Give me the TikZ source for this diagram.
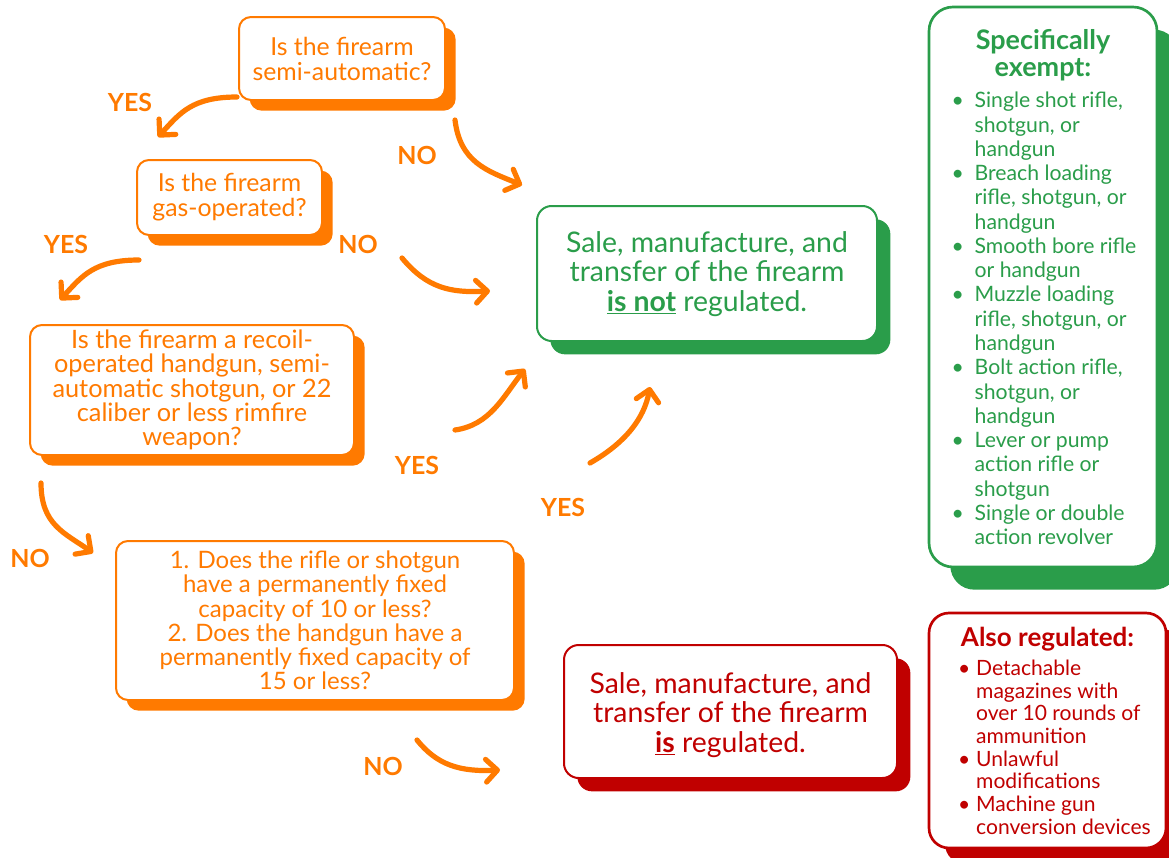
\documentclass[tikz,border=0pt]{standalone}
\usepackage{fontspec}
\setmainfont{Lato}
\usetikzlibrary{arrows.meta,shadows}
\definecolor{orangeC}{HTML}{FF7A00}
\definecolor{greenC}{HTML}{2A9D4A}
\definecolor{redC}{HTML}{C00000}
\newcommand{\blt}[2]{\hspace*{3pt}\makebox[#1][l]{•}#2}
\newcommand{\ind}[2]{\hspace*{3pt}\hspace*{#1}#2}
\newcommand{\lowered}[2]{\raisebox{#1}[\height][\depth]{\renewcommand{\arraystretch}{0.97}\begin{tabular}{@{}c@{}}#2\end{tabular}}}
\begin{document}
\begin{tikzpicture}[x=0.75pt,y=-0.75pt,
  qbox/.style={draw=orangeC, line width=1.5pt, fill=white, rounded corners=9pt, align=center,
    text=orangeC, font=\fontsize{17.6}{18.3}\selectfont, inner sep=0pt,
    general shadow={fill=orangeC, shadow xshift=8pt, shadow yshift=-8pt}},
  gbox/.style={draw=greenC, line width=1.5pt, fill=white, rounded corners=11pt, align=center,
    text=greenC, font=\fontsize{21.3}{21}\selectfont, inner sep=0pt,
    general shadow={fill=greenC, shadow xshift=10pt, shadow yshift=-10pt}},
  rbox/.style={draw=redC, line width=1.5pt, fill=white, rounded corners=11pt, align=center,
    text=redC, font=\fontsize{21.3}{21}\selectfont, inner sep=0pt,
    general shadow={fill=redC, shadow xshift=10pt, shadow yshift=-10pt}},
  flow/.style={draw=orangeC, line width=3.9pt, line cap=round,
    -{Straight Barb[round, length=8.5pt, width=17pt]}},
  lbl/.style={text=orangeC, font=\fontsize{18.7}{20}\selectfont\bfseries, inner sep=0pt}
]
\useasboundingbox (0,0) rectangle (1169,857);

% question boxes
\node[qbox, font=\fontsize{18.6}{18.75}\selectfont, minimum width=154.5pt, minimum height=62.25pt] (q1) at (342,58.5)
  {Is the firearm\\semi-automatic?};
\node[qbox, font=\fontsize{18.6}{18.75}\selectfont, minimum width=138.75pt, minimum height=56.25pt] (q2) at (229.5,197.5)
  {Is the firearm\\gas-operated?};
\node[qbox, font=\fontsize{19}{18.2}\selectfont, minimum width=243pt, minimum height=97.5pt] (q3) at (192,390)
  {Is the firearm a recoil-\\operated handgun, semi-\\automatic shotgun, or 22\\caliber or less rimfire\\weapon?};
\node[qbox, font=\fontsize{18}{18.2}\selectfont, minimum width=298.5pt, minimum height=119.25pt] (q4) at (315,620.5)
  {1. Does the rifle or shotgun\\have a permanently fixed\\capacity of 10 or less?\\2. Does the handgun have a\\permanently fixed capacity of\\15 or less?};

% outcomes
\node[gbox, minimum width=255pt, minimum height=101.25pt] (notreg) at (707,273.5)
  {\lowered{-1.5pt}{Sale, manufacture, and\\transfer of the firearm\\\underline{\textbf{is not}} regulated.}};
\node[rbox, minimum width=249.75pt, minimum height=99.75pt] (isreg) at (730.5,711.5)
  {\lowered{-3.75pt}{Sale, manufacture, and\\transfer of the firearm\\\underline{\textbf{is}} regulated.}};

% side lists
\node[draw=greenC, line width=2pt, fill=white, rounded corners=18pt, text=greenC, inner sep=0pt,
  minimum width=171pt, minimum height=420pt,
  general shadow={fill=greenC, shadow xshift=16pt, shadow yshift=-17pt}] (exempt) at (1043,287)
  {\begin{minipage}{143pt}\centering
   {\fontsize{20.2}{20.25}\selectfont\bfseries Specifically\\exempt:\par}
   \vspace{5.5pt}
   \raggedright\fontsize{15.9}{18.2}\selectfont
   \blt{17.25pt}{Single shot rifle,}\\
   \ind{17.25pt}{shotgun, or}\\
   \ind{17.25pt}{handgun}\\
   \blt{17.25pt}{Breach loading}\\
   \ind{17.25pt}{rifle, shotgun, or}\\
   \ind{17.25pt}{handgun}\\
   \blt{17.25pt}{Smooth bore rifle}\\
   \ind{17.25pt}{or handgun}\\
   \blt{17.25pt}{Muzzle loading}\\
   \ind{17.25pt}{rifle, shotgun, or}\\
   \ind{17.25pt}{handgun}\\
   \blt{17.25pt}{Bolt action rifle,}\\
   \ind{17.25pt}{shotgun, or}\\
   \ind{17.25pt}{handgun}\\
   \blt{17.25pt}{Lever or pump}\\
   \ind{17.25pt}{action rifle or}\\
   \ind{17.25pt}{shotgun}\\
   \blt{17.25pt}{Single or double}\\
   \ind{17.25pt}{action revolver}\par
   \end{minipage}};

\node[draw=redC, line width=2pt, fill=white, rounded corners=15pt, text=redC, inner sep=0pt,
  minimum width=177.75pt, minimum height=176.25pt,
  general shadow={fill=redC, shadow xshift=12pt, shadow yshift=-12pt}] (alsoreg) at (1047.5,730.5)
  {\begin{minipage}{166pt}\centering
   {\fontsize{19.5}{19}\selectfont\bfseries Also regulated:\par}
   \vspace{5pt}
   \raggedright\fontsize{15.8}{17}\selectfont
   \hspace*{13pt}\blt{13.5pt}{Detachable}\\
   \hspace*{13pt}\ind{13.5pt}{magazines with}\\
   \hspace*{13pt}\ind{13.5pt}{over 10 rounds of}\\
   \hspace*{13pt}\ind{13.5pt}{ammunition}\\
   \hspace*{13pt}\blt{13.5pt}{Unlawful}\\
   \hspace*{13pt}\ind{13.5pt}{modifications}\\
   \hspace*{13pt}\blt{13.5pt}{Machine gun}\\
   \hspace*{13pt}\ind{13.5pt}{conversion devices}\par
   \end{minipage}};

% arrow end points
\coordinate (a1s) at (237,97);   \coordinate (a1e) at (158,137);
\coordinate (a2s) at (455,120);  \coordinate (a2e) at (522,185);
\coordinate (a3s) at (139,260);  \coordinate (a3e) at (60,300);
\coordinate (a4s) at (402,258);  \coordinate (a4e) at (490,291);
\coordinate (a5s) at (455,430);  \coordinate (a5e) at (525,369);
\coordinate (a6s) at (590,463);  \coordinate (a6e) at (650,387);
\coordinate (a7s) at (41,483);   \coordinate (a7e) at (93,553);
\coordinate (a8s) at (417,740);  \coordinate (a8e) at (500,770);

\draw[flow] (a1s) .. controls +(-45,0) and +(22,-24) .. (a1e);
\draw[flow] (a2s) .. controls +(5,42) and +(-35,-14) .. (a2e);
\draw[flow] (a3s) .. controls +(-45,0) and +(22,-24) .. (a3e);
\draw[flow] (a4s) .. controls +(25,30) and +(-40,2) .. (a4e);
\draw[flow] (a5s) .. controls +(35,-5) and +(-22,28) .. (a5e);
\draw[flow] (a6s) .. controls +(35,-20) and +(-6,32) .. (a6e);
\draw[flow] (a7s) .. controls +(0,42) and +(-28,-20) .. (a7e);
\draw[flow] (a8s) .. controls +(20,25) and +(-40,2) .. (a8e);

% labels
\node[lbl] (l1) at (130,102) {YES};
\node[lbl] (l2) at (417,155) {NO};
\node[lbl] (l3) at (66,244) {YES};
\node[lbl] (l4) at (358,244) {NO};
\node[lbl] (l5) at (417,465) {YES};
\node[lbl] (l6) at (563,507) {YES};
\node[lbl] (l7) at (30,558) {NO};
\node[lbl] (l8) at (383,766) {NO};
\end{tikzpicture}
\end{document}
